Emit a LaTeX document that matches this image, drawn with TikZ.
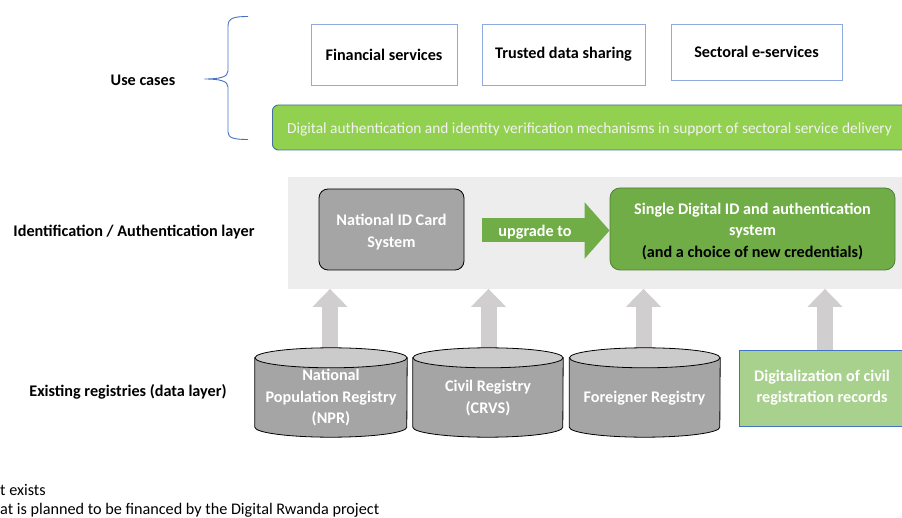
\documentclass[tikz,border=0pt]{standalone}
\usepackage{fontspec}
\setmainfont{Carlito}
\usetikzlibrary{arrows.meta}
\definecolor{bordblue}{HTML}{8FAADC}
\definecolor{braceblue}{HTML}{4472C4}
\definecolor{barfill}{HTML}{92D050}
\definecolor{bardraw}{HTML}{41719C}
\definecolor{panel}{HTML}{EDEDED}
\definecolor{boxgray}{HTML}{A5A5A5}
\definecolor{topgray}{HTML}{CBCBCB}
\definecolor{darkgreen}{HTML}{70AD47}
\definecolor{darkgreenbord}{HTML}{507E32}
\definecolor{lightgreen}{HTML}{A9D18E}
\definecolor{uparrow}{HTML}{D0CECE}
\begin{document}
\begin{tikzpicture}[x=1pt,y=-1pt,
  font=\fontsize{16.2}{21.5}\selectfont,
  ubox/.style={draw=bordblue, line width=0.9pt, fill=white, font=\fontsize{16.2}{21.5}\selectfont\bfseries, inner sep=0pt},
  lbl/.style={font=\fontsize{16.2}{21.5}\selectfont\bfseries, inner sep=0pt},
  graybox/.style={draw=black, line width=0.8pt, fill=boxgray, rounded corners=9pt, inner sep=0pt},
  cylspace/.style={inner sep=0pt},
  wtext/.style={text=white, font=\fontsize{16.2}{21.5}\selectfont\bfseries, align=center, inner sep=0pt},
  uparr/.style={draw=uparrow, line width=16pt, -{Triangle[width=34pt,length=18pt]}},
  cylbody/.style={draw=black, line width=0.8pt, fill=boxgray},
  cyltop/.style={draw=black, line width=0.8pt, fill=topgray},
]
\useasboundingbox (0,0) rectangle (902,518);

% brace
\coordinate (btop) at (248,16.5);
\coordinate (btip) at (204.5,79);
\coordinate (bbot) at (248,139.5);
\draw[braceblue, line width=0.9pt] (btop) .. controls (234,16.5) and (228,18) .. (228,26) -- (228,71) .. controls (228,77) and (220,79) .. (btip) .. controls (220,79) and (228,81) .. (228,87) -- (228,132) .. controls (228,138) and (234,139.5) .. (bbot);

% left labels
\node[lbl] (uc) at (143,80) {Use cases};
\node[lbl] (ia) at (134,232) {Identification / Authentication layer};
\node[lbl] (er) at (128,392) {Existing registries (data layer)};

% use case boxes
\node[ubox, minimum width=146pt, minimum height=61pt] (fin) at (384,54.5) {Financial services};
\node[ubox, minimum width=163pt, minimum height=61pt] (tds) at (563.5,54.5) {Trusted data sharing};
\node[ubox, minimum width=171pt, minimum height=56pt] (ses) at (756.5,52) {Sectoral e-services};

% green bar
\node[draw=bardraw, line width=0.9pt, fill=barfill, rounded corners=6pt, minimum width=636pt, minimum height=45pt, inner sep=0pt, anchor=west] (bar) at (272,127.5) {};
\node[inner sep=0pt, text=white!95!black, font=\fontsize{15.4}{20}\selectfont] (bartxt) at (589.5,129) {Digital authentication and identity verification mechanisms in support of sectoral service delivery};

% panel
\node[fill=panel, minimum width=630pt, minimum height=112pt, inner sep=0pt, anchor=north west] (panel) at (288,176.5) {};

% up arrows (behind cylinders)
\coordinate (a1) at (330,352);
\coordinate (a2) at (488.5,352);
\coordinate (a3) at (643.5,352);
\coordinate (a4) at (825,352);
\draw[uparr] (a1) -- (a1 |- panel.south);
\draw[uparr] (a2) -- (a2 |- panel.south);
\draw[uparr] (a3) -- (a3 |- panel.south);
\draw[uparr] (a4) -- (a4 |- panel.south);

% ID boxes
\node[graybox, minimum width=145pt, minimum height=81pt] (nid) at (391.5,229.5) {};
\node[wtext] at (391.5,232) {National ID Card\\System};
\node[draw=darkgreenbord, line width=0.8pt, fill=darkgreen, rounded corners=10pt, minimum width=285pt, minimum height=82pt, inner sep=0pt] (sdi) at (752.5,229) {};
\node[wtext, align=center] at (752.5,231.5) {Single Digital ID and authentication\\system\\\textcolor{black}{(and a choice of new credentials)}};

% upgrade arrow
\draw[draw=darkgreen, line width=24pt, -{Triangle[width=55pt,length=25pt]}] (nid.east) ++(18,1) coordinate (ustart) -- (sdi.west |- ustart);
\node[wtext] (upg) at (535,232) {upgrade to};

% cylinders
\foreach \nm/\xl/\xr in {npr/255/407, crvs/413/563, frg/569.5/720}{
  \node[cylspace, minimum width={\xr-\xl}, minimum height=69pt] (\nm) at ({(\xl+\xr)/2},392.5) {};
  \path[cylbody] (\nm.north west) -- (\nm.south west) arc[start angle=180, end angle=0, x radius={(\xr-\xl)/2}, y radius=10] -- (\nm.north east) -- cycle;
  \path[cyltop] (\nm.north) ellipse[x radius={(\xr-\xl)/2}, y radius=10];
}
\node[wtext] at (331,398) {National\\Population Registry\\(NPR)};
\node[wtext] at (488,398) {Civil Registry\\(CRVS)};
\node[wtext] at (644.5,398) {Foreigner Registry};

% digitalization box
\node[draw=braceblue, line width=0.8pt, fill=lightgreen, minimum width=168pt, minimum height=76pt, inner sep=0pt, anchor=north west] (dig) at (739,350) {};
\node[wtext] at (822,387.5) {Digitalization of civil\\registration records};

% footer
\node[anchor=west, inner sep=0pt] (f1) at (0,490) {t exists};
\node[anchor=west, inner sep=0pt] (f2) at (0,510) {at is planned to be financed by the Digital Rwanda project};
\end{tikzpicture}
\end{document}
